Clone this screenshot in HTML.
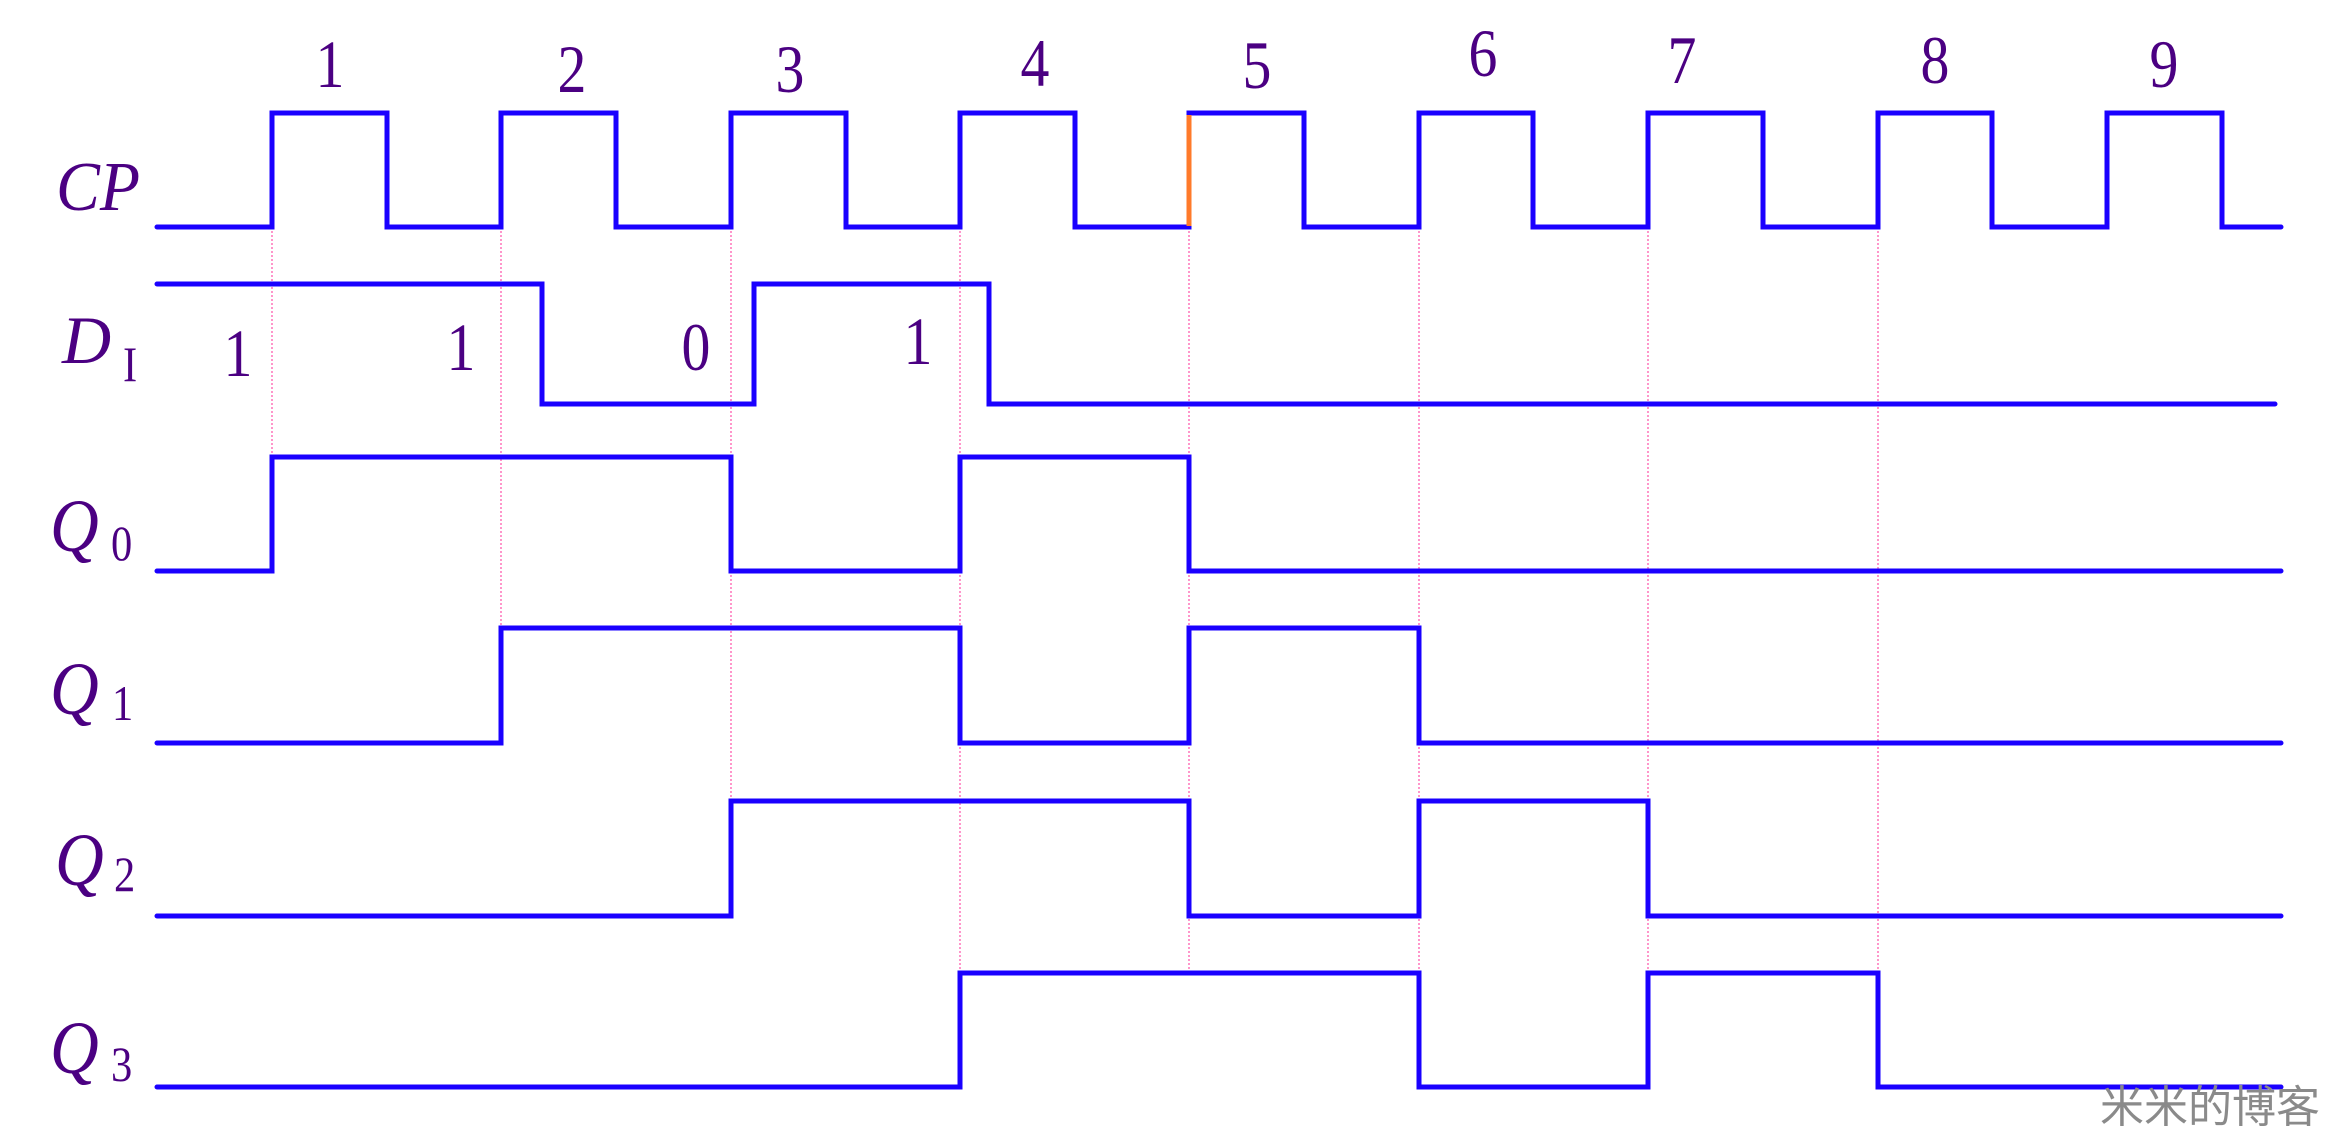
<!DOCTYPE html>
<html><head><meta charset="utf-8"><style>
html,body{margin:0;padding:0;background:#fff;width:2328px;height:1134px;overflow:hidden}
svg{display:block}
.t{font-family:"Liberation Serif",serif;fill:#4b0082}
.i{font-style:italic}
</style></head><body>
<svg width="2328" height="1134" viewBox="0 0 2328 1134" xmlns="http://www.w3.org/2000/svg">
<g stroke="#ff4fa8" stroke-width="1.2" stroke-dasharray="2,2" fill="none">
<line x1="272" y1="227" x2="272" y2="457"/>
<line x1="501" y1="227" x2="501" y2="628"/>
<line x1="731" y1="227" x2="731" y2="801"/>
<line x1="960" y1="227" x2="960" y2="973"/>
<line x1="1189" y1="227" x2="1189" y2="973"/>
<line x1="1419" y1="227" x2="1419" y2="973"/>
<line x1="1648" y1="227" x2="1648" y2="973"/>
<line x1="1878" y1="227" x2="1878" y2="973"/>
</g>
<g stroke="#1a00ff" stroke-width="5" fill="none" stroke-linejoin="miter" stroke-linecap="round">
<polyline points="157,227 272,227 272,113 387,113 387,227 501,227 501,113 616,113 616,227 731,227 731,113 846,113 846,227 960,227 960,113 1075,113 1075,227 1189,227 1189,113 1304,113 1304,227 1419,227 1419,113 1533,113 1533,227 1648,227 1648,113 1763,113 1763,227 1878,227 1878,113 1992,113 1992,227 2107,227 2107,113 2222,113 2222,227 2281,227"/>
<polyline points="157,284 542,284 542,404 754,404 754,284 989,284 989,404 2275,404"/>
<polyline points="157,571 272,571 272,457 731,457 731,571 960,571 960,457 1189,457 1189,571 2281,571"/>
<polyline points="157,743 501,743 501,628 960,628 960,743 1189,743 1189,628 1419,628 1419,743 2281,743"/>
<polyline points="157,916 731,916 731,801 1189,801 1189,916 1419,916 1419,801 1648,801 1648,916 2281,916"/>
<polyline points="157,1087 960,1087 960,973 1419,973 1419,1087 1648,1087 1648,973 1878,973 1878,1087 2281,1087"/>
</g>
<line x1="1189" y1="115" x2="1189" y2="226" stroke="#ff7a2a" stroke-width="5"/>
<g class="t" font-size="68" text-anchor="middle">
<text transform="translate(330,87) scale(.85,1)">1</text>
<text transform="translate(572,92) scale(.85,1)">2</text>
<text transform="translate(790,92) scale(.85,1)">3</text>
<text transform="translate(1035,86) scale(.85,1)">4</text>
<text transform="translate(1257,88) scale(.85,1)">5</text>
<text transform="translate(1483,76) scale(.85,1)">6</text>
<text transform="translate(1682,83) scale(.85,1)">7</text>
<text transform="translate(1935,83) scale(.85,1)">8</text>
<text transform="translate(2164,87) scale(.85,1)">9</text>
<text transform="translate(238,376) scale(.85,1)">1</text>
<text transform="translate(461,370) scale(.85,1)">1</text>
<text transform="translate(696,370) scale(.85,1)">0</text>
<text transform="translate(918,364) scale(.85,1)">1</text>
</g>
<g class="t">
<text class="i" font-size="70" transform="translate(56,210) scale(.94,1)">CP</text>
<text class="i" font-size="68" transform="translate(62,363)">D</text>
<text font-size="50" transform="translate(123,381) scale(.85,1)">I</text>
<text class="i" font-size="75" transform="translate(50,551) scale(.9,1)">Q</text>
<text font-size="50" transform="translate(111,560) scale(.85,1)">0</text>
<text class="i" font-size="75" transform="translate(50,714) scale(.9,1)">Q</text>
<text font-size="50" transform="translate(112,720) scale(.85,1)">1</text>
<text class="i" font-size="75" transform="translate(55,885) scale(.9,1)">Q</text>
<text font-size="50" transform="translate(114,891) scale(.85,1)">2</text>
<text class="i" font-size="75" transform="translate(50,1073) scale(.9,1)">Q</text>
<text font-size="50" transform="translate(111,1081) scale(.85,1)">3</text>
</g>
<text x="2100" y="1122" font-family="'Liberation Sans','Noto Sans CJK SC',sans-serif" font-size="44" fill="#8a8a8a">米米的博客</text>
</svg>
</body></html>
